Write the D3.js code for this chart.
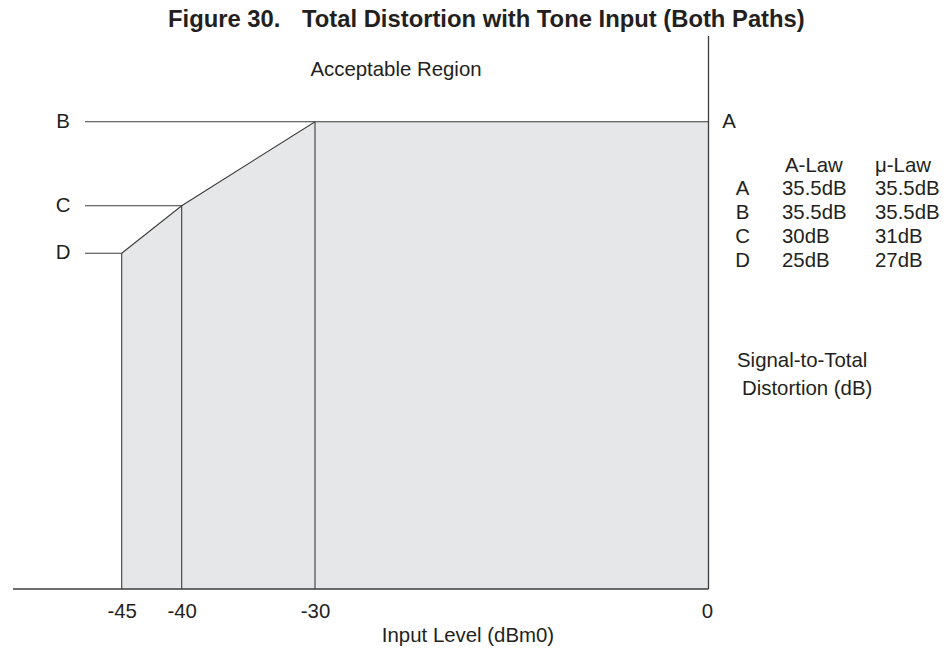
<!DOCTYPE html>
<html>
<head>
<meta charset="utf-8">
<script src="https://cdn.jsdelivr.net/npm/d3@7"></script>
<style>
  html, body { margin: 0; padding: 0; background: #fff; }
  svg { display: block; }
  text { font-family: "Liberation Sans", Arial, Helvetica, sans-serif; fill: #231f20; }
</style>
</head>
<body>
<svg id="chart" width="946" height="653"></svg>
<script>
// ---- Data ----
const pointLabels = ["D", "C", "B", "A"];
const inputLevels = [-45, -40, -30, 0];          // dBm0
const aLawSTD = [25, 30, 35.5, 35.5];             // dB (A-law)
const muLawSTD = [27, 31, 35.5, 35.5];            // dB (μ-law)
const xTickValues = [-45, -40, -30, 0];
const xTickLabels = ["-45", "-40", "-30", "0"];
const tableRows = ["A", "B", "C", "D"];
const tableALaw = ["35.5dB", "35.5dB", "30dB", "25dB"];
const tableMuLaw = ["35.5dB", "35.5dB", "31dB", "27dB"];
const titleLead = "Figure 30.";
const titleMain = "Total Distortion with Tone Input (Both Paths)";
const xLabel = "Input Level (dBm0)";
const yLabel = ["Signal-to-Total", "Distortion (dB)"];
const regionLabel = "Acceptable Region";

// ---- Layout ----
const svg = d3.select("#chart");
const FS = 20.4;
const lineColor = "#3c3c3c";
const fillColor = "#e6e7e8";
const plotBottom = 589;
const axisLeft = 13;
const axisTop = 36;
const refLineStart = 85;

// schematic (piecewise) scales, as in the original drawing
const x = d3.scaleLinear().domain(inputLevels).range([121.7, 181.7, 315, 708.5]);
const y = d3.scaleLinear().domain([25, 30, 35.5]).range([253.3, 205.7, 121.7]);

const pts = inputLevels.map((v, i) => ({ x: v, y: aLawSTD[i], label: pointLabels[i] }));

// shaded acceptable area
const area = d3.area()
  .x(d => x(d.x))
  .y0(plotBottom)
  .y1(d => y(d.y));
svg.append("path")
  .datum(pts)
  .attr("d", area)
  .attr("fill", fillColor)
  .attr("stroke", "none");

// reference lines from left labels
pts.filter(d => d.label !== "A").forEach(d => {
  svg.append("line")
    .attr("x1", refLineStart).attr("x2", x(d.x))
    .attr("y1", y(d.y)).attr("y2", y(d.y))
    .attr("stroke", lineColor).attr("stroke-width", 1.1);
  svg.append("text")
    .attr("x", 63).attr("y", y(d.y) + 5.8)
    .attr("text-anchor", "middle")
    .attr("font-size", FS)
    .text(d.label);
});

// the limit curve
svg.append("path")
  .datum(pts)
  .attr("d", d3.line().x(d => x(d.x)).y(d => y(d.y)))
  .attr("fill", "none")
  .attr("stroke", lineColor)
  .attr("stroke-width", 1.1);

// vertical drop lines at breakpoints
pts.filter(d => d.x !== 0).forEach(d => {
  svg.append("line")
    .attr("x1", x(d.x)).attr("x2", x(d.x))
    .attr("y1", y(d.y)).attr("y2", plotBottom)
    .attr("stroke", lineColor).attr("stroke-width", 1.1);
});

// axes (bottom horizontal & right vertical)
svg.append("line")
  .attr("x1", axisLeft).attr("x2", x(0))
  .attr("y1", plotBottom).attr("y2", plotBottom)
  .attr("stroke", lineColor).attr("stroke-width", 1.3);
svg.append("line")
  .attr("x1", x(0)).attr("x2", x(0))
  .attr("y1", axisTop).attr("y2", plotBottom)
  .attr("stroke", lineColor).attr("stroke-width", 1.3);

// x tick labels via d3 axis (no tick marks / domain)
const xAxis = d3.axisBottom(x).tickValues(xTickValues).tickSize(0).tickPadding(0)
  .tickFormat((d, i) => xTickLabels[i]);
const gx = svg.append("g").attr("transform", `translate(0, ${plotBottom})`).call(xAxis);
gx.select(".domain").remove();
gx.selectAll("text")
  .attr("y", 29.3).attr("dy", null)
  .attr("font-size", FS)
  .attr("font-family", "'Liberation Sans', Arial, sans-serif")
  .attr("fill", "#231f20");
gx.selectAll(".tick").filter(d => d === 0).select("text").attr("dx", -1.5);

// point A label
svg.append("text")
  .attr("x", 729).attr("y", y(35.5) + 6.6)
  .attr("text-anchor", "middle")
  .attr("font-size", FS)
  .text("A");

// Title
const title = svg.append("text")
  .attr("y", 27)
  .attr("font-size", 23.8)
  .attr("font-weight", "bold")
  .attr("fill", "#000");
title.append("tspan").attr("x", 168).text(titleLead);
title.append("tspan").attr("x", 302).text(titleMain);

// Acceptable region label
svg.append("text")
  .attr("x", 396).attr("y", 76)
  .attr("text-anchor", "middle")
  .attr("font-size", FS)
  .text(regionLabel);

// x axis label
svg.append("text")
  .attr("x", 468).attr("y", 642)
  .attr("text-anchor", "middle")
  .attr("font-size", FS)
  .text(xLabel);

// table
svg.append("text").attr("x", 785).attr("y", 171.7).attr("font-size", FS).text("A-Law");
svg.append("text").attr("x", 875).attr("y", 171.7).attr("font-size", FS).text("μ-Law");
const rowBase = 195, rowStep = 23.9;
tableRows.forEach((r, i) => {
  const yy = rowBase + i * rowStep;
  svg.append("text").attr("x", 742.5).attr("y", yy).attr("text-anchor", "middle").attr("font-size", FS).text(r);
  svg.append("text").attr("x", 782).attr("y", yy).attr("font-size", FS).text(tableALaw[i]);
  svg.append("text").attr("x", 875).attr("y", yy).attr("font-size", FS).text(tableMuLaw[i]);
});

// y label
svg.append("text").attr("x", 737).attr("y", 367).attr("font-size", FS).text(yLabel[0]);
svg.append("text").attr("x", 742).attr("y", 395).attr("font-size", FS).text(yLabel[1]);
</script>
</body>
</html>
